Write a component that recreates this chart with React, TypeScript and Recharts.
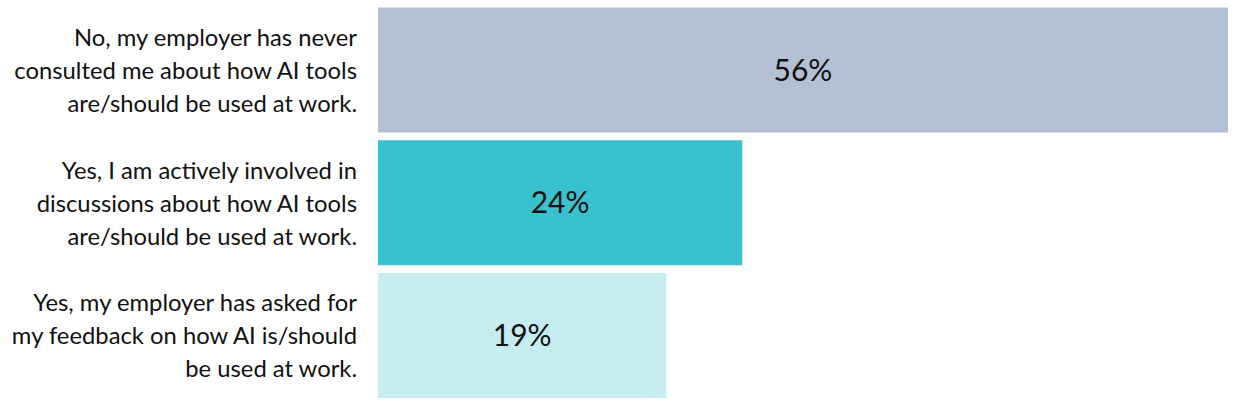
import React from 'react';
import { BarChart, Bar, XAxis, YAxis, Cell, LabelList } from 'recharts';

// Survey answers (label lines split the way the original wraps them)
const answers = [
  'No, my employer has never\nconsulted me about how AI tools\nare/should be used at work.',
  'Yes, I am actively involved in\ndiscussions about how AI tools\nare/should be used at work.',
  'Yes, my employer has asked for\nmy feedback on how AI is/should\nbe used at work.',
];
const shares = [56, 24, 19];
const barColors = ['#b3c0d3', '#39c1cd', '#c5edef'];

const data = answers.map((answer, i) => ({ answer, share: shares[i] }));

const FONT = 'Lato, "Noto Sans", sans-serif';

const AnswerTick = (props: any) => {
  const { x, y, payload } = props;
  const lines: string[] = String(payload.value).split('\n');
  const lineHeight = 33;
  const start = -((lines.length - 1) * lineHeight) / 2;
  return (
    <text x={x} y={y} textAnchor="end" fill="#111" fontSize={23.8} fontFamily={FONT}>
      {lines.map((line, i) => (
        <tspan key={i} x={x} y={y + start + i * lineHeight} dy="0.36em">
          {line}
        </tspan>
      ))}
    </text>
  );
};

const App: React.FC = () => {
  return (
    <div style={{ position: 'absolute', left: 0, top: 0, width: 1234, height: 406, background: '#fff' }}>
      <BarChart
        width={1234}
        height={406}
        data={data}
        layout="vertical"
        margin={{ top: 4, right: 6, bottom: 4, left: 0 }}
        barCategoryGap={3.6}
      >
        <XAxis type="number" domain={[0, 56]} hide />
        <YAxis
          type="category"
          dataKey="answer"
          width={378}
          axisLine={false}
          tickLine={false}
          tickMargin={15}
          tick={<AnswerTick />}
        />
        <Bar dataKey="share" isAnimationActive={false}>
          {data.map((d, i) => (
            <Cell key={`cell-${i}`} fill={barColors[i]} />
          ))}
          <LabelList
            dataKey="share"
            position="center"
            formatter={(v: any) => `${v}%`}
            fill="#111"
            fontSize={30}
            fontFamily={FONT}
          />
        </Bar>
      </BarChart>
    </div>
  );
};

export default App;
